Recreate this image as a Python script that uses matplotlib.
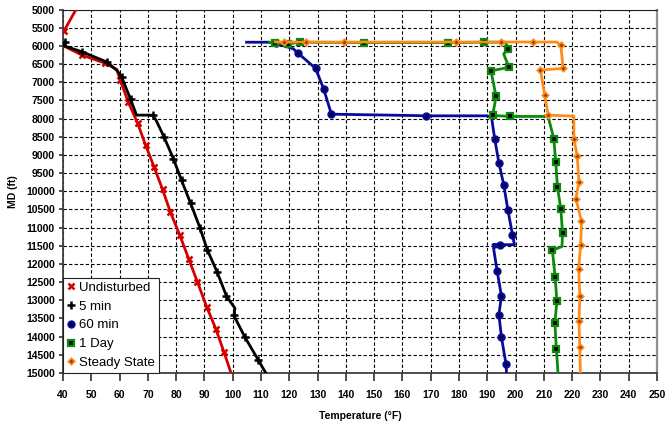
import matplotlib
matplotlib.use("Agg")
import matplotlib.pyplot as plt

plt.rcParams["font.family"] = ["Liberation Sans", "DejaVu Sans"]

# Temperature (°F) vs measured depth (ft) for each shut-in time
undist_temp = [44.6, 40.3, 36.0, 40.2, 46.6, 55.0, 59.0, 60.3, 63.1, 66.4, 69.2,
               72.2, 75.2, 78.0, 81.3, 84.5, 87.5, 90.8, 94.0, 96.9, 99.4]
undist_md = [5000, 5600, 5800, 6000, 6250, 6480, 6650, 6950, 7550, 8130, 8730,
             9330, 9950, 10580, 11210, 11870, 12490, 13180, 13780, 14420, 15000]
undist_mark = [1, 4, 5, 7, 8, 9, 10, 11, 12, 13, 14, 15, 16, 17, 18, 19]

min5_temp = [40.7, 40.0, 46.6, 55.4, 59.0, 60.7, 63.9, 66.0, 71.7, 72.9, 75.7,
             79.0, 81.9, 85.1, 88.4, 91.0, 94.5, 97.8, 100.8, 100.4, 104.3,
             109.0, 111.7]
min5_md = [5890, 5990, 6160, 6440, 6667, 6850, 7470, 7906, 7906, 8044, 8504,
           9099, 9697, 10330, 11000, 11606, 12223, 12884, 13220, 13416, 14013,
           14636, 15000]
min5_mark = [0, 2, 3, 5, 6, 8, 10, 11, 12, 13, 14, 15, 16, 17, 19, 20, 21]

min60_temp = [104.9, 112.5, 115.3, 121.4, 123.2, 129.3, 132.2, 134.9, 162.6,
              168.3, 189.7, 191.5, 192.6, 194.1, 195.8, 197.3, 198.9, 199.6,
              192.0, 194.6, 192.2, 193.5, 195.0, 194.1, 195.0, 196.6, 196.8]
min60_md = [5900, 5900, 5930, 6080, 6207, 6620, 7198, 7880, 7915, 7925, 7925,
            7960, 8549, 9220, 9815, 10523, 11193, 11470, 11470, 11488, 11560,
            12204, 12884, 13397, 14013, 14747, 15000]
min60_mark = [2, 4, 5, 6, 7, 9, 12, 13, 14, 15, 16, 19, 21, 22, 23, 24, 25]

day1_temp = [113.0, 114.9, 119.6, 123.7, 146.4, 176.1, 188.9, 196.5, 197.3,
             195.8, 197.7, 191.3, 193.1, 191.9, 198.2, 211.5, 213.5, 214.2,
             214.8, 216.0, 216.6, 216.4, 213.0, 214.0, 214.6, 213.9, 214.4,
             215.0]
day1_md = [5900, 5930, 5950, 5900, 5910, 5910, 5900, 5900, 6080, 6226, 6592,
           6687, 7391, 7915, 7942, 7942, 8549, 9192, 9881, 10496, 11149,
           11520, 11625, 12360, 13030, 13617, 14333, 15000]
day1_mark = [1, 2, 3, 4, 5, 6, 8, 10, 11, 12, 13, 14, 16, 17, 18, 19, 20,
             22, 23, 24, 25, 26]

steady_temp = [115.0, 118.1, 125.9, 139.4, 178.9, 194.8, 206.0, 214.5, 216.0,
               216.8, 208.8, 210.3, 211.5, 220.6, 220.6, 221.8, 222.4, 221.3,
               223.3, 223.0, 222.3, 222.7, 222.4, 222.7, 222.9]
steady_md = [5895, 5895, 5895, 5895, 5895, 5895, 5895, 5895, 5990, 6620, 6667,
             7355, 7906, 7934, 8549, 9036, 9744, 10200, 10818, 11468, 12128,
             12893, 13573, 14287, 15000]
steady_mark = [1, 2, 3, 4, 5, 6, 8, 9, 10, 11, 12, 14, 15, 16, 17, 18, 19,
               20, 21, 22, 23]

TICK_FONT = dict(fontsize=7.5, fontweight="bold")


def main() -> None:
    fig = plt.figure(figsize=(6.65, 4.28), dpi=100)
    ax = fig.add_axes([0.0947, 0.1285, 0.8933, 0.8493])

    series = [
        (undist_temp, undist_md, undist_mark, "Undisturbed", "#d40000",
         dict(marker="x", markersize=4.5, markeredgewidth=1.8,
              markeredgecolor="#d40000")),
        (min5_temp, min5_md, min5_mark, "5 min", "#000000",
         dict(marker="+", markersize=6, markeredgewidth=1.8,
              markeredgecolor="#000000")),
        (min60_temp, min60_md, min60_mark, "60 min", "#0a0a9a",
         dict(marker="o", markersize=4.5, markeredgewidth=1.5,
              markeredgecolor="#0a0a9a", markerfacecolor="#000040")),
        (day1_temp, day1_md, day1_mark, "1 Day", "#0b8a0b",
         dict(marker="s", markersize=4.5, markeredgewidth=1.6,
              markeredgecolor="#0b8a0b", markerfacecolor="#000000")),
        (steady_temp, steady_md, steady_mark, "Steady State", "#ff8c1a",
         dict(marker="D", markersize=3.3, markeredgewidth=1.2,
              markeredgecolor="#ff8c1a", markerfacecolor="#a04000")),
    ]

    handles = []
    for temp, md, mark, label, color, mk in series:
        ax.plot(temp, md, color=color, lw=2.0, markevery=mark, zorder=3, **mk)
        h, = ax.plot([], [], linestyle="none", label=label, **mk)
        handles.append(h)

    ax.set_xlim(40, 250)
    ax.set_ylim(15000, 5000)
    ax.set_xticks(range(40, 251, 10))
    ax.set_yticks(range(5000, 15001, 500))
    for lab in ax.get_xticklabels() + ax.get_yticklabels():
        lab.set_fontsize(TICK_FONT["fontsize"])
        lab.set_fontweight(TICK_FONT["fontweight"])

    ax.grid(True, color="black", linestyle=(0, (3, 2)), linewidth=0.8)
    ax.set_axisbelow(True)
    ax.tick_params(axis="x", direction="out", length=6, width=1.2,
                   color="#303030", pad=6)
    ax.tick_params(axis="y", direction="out", length=3, width=1.2,
                   color="#303030", pad=3)
    for side in ["left", "bottom"]:
        ax.spines[side].set_color("#404040")
        ax.spines[side].set_linewidth(1.3)
    ax.spines["top"].set_color("#202020")
    ax.spines["right"].set_color("#909090")
    ax.spines["right"].set_linewidth(1.6)

    ax.set_xlabel("Temperature (°F)", **TICK_FONT, labelpad=8)
    ax.set_ylabel("MD (ft)", **TICK_FONT, labelpad=6)

    leg = ax.legend(handles=handles, loc="lower left", fontsize=9.5,
                    frameon=True, fancybox=False, borderaxespad=0,
                    handlelength=0.6, handletextpad=0.35,
                    labelspacing=0.5, borderpad=0.3)
    leg.get_frame().set_edgecolor("#202020")
    leg.get_frame().set_linewidth(0.8)
    leg.get_frame().set_alpha(1)
    leg.set_zorder(5)

    fig.savefig("out.png", dpi=100)
    plt.close(fig)


if __name__ == "__main__":
    main()
